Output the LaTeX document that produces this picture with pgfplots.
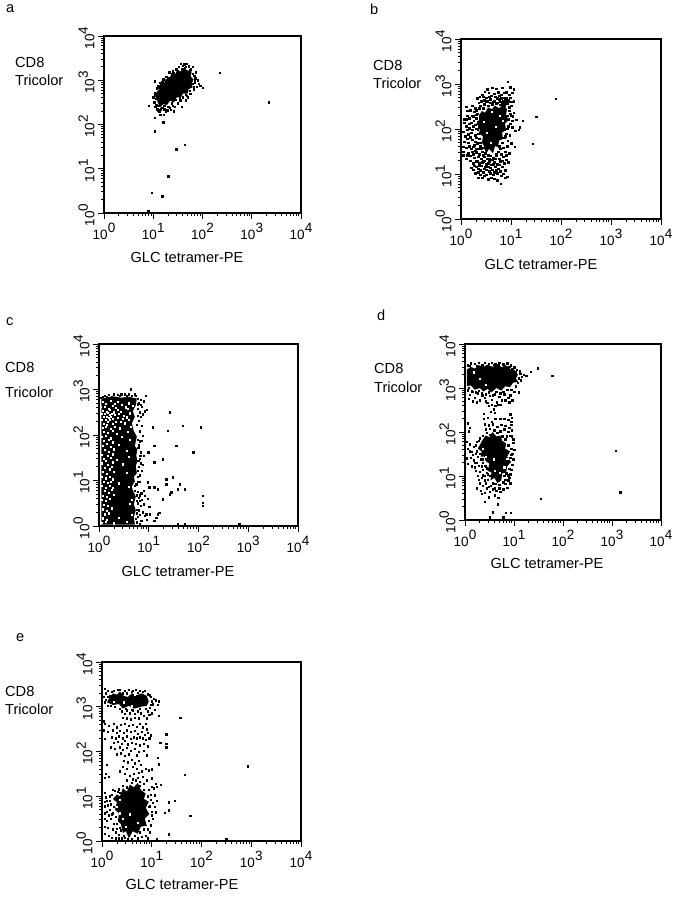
\documentclass[border=0pt]{standalone}
\usepackage{fontspec}
\setmainfont{Liberation Sans}
\usepackage{pgfplots}
\pgfplotsset{compat=1.18}
\newcommand\tn[1]{10\raisebox{6.5pt}{#1}}
\newcommand\lab[3]{\node[anchor=west,inner sep=0pt,font=\fontsize{14.6}{17}\selectfont] at ({#1pt},{900pt-#2pt}) {#3};}
\newcommand\cen[3]{\node[anchor=center,inner sep=0pt,font=\fontsize{14.6}{17}\selectfont] at ({#1pt},{900pt-#2pt}) {#3};}
\pgfplotsset{
  flow/.style={
    scale only axis, anchor=south west,
    xmin=0, xmax=4, ymin=0, ymax=4,
    axis line style={line width=1.4pt},
    tick style={line width=0.9pt, black},
    tick align=outside, tick pos=left,
    major tick length=6pt, minor tick length=3pt,
    xtick={0,1,2,3,4}, ytick={0,1,2,3,4},
    xticklabels={\tn{0},\tn{1},\tn{2},\tn{3},\tn{4}},
    yticklabels={\tn{0},\tn{1},\tn{2},\tn{3},\tn{4}},
    minor xtick={0.301,0.477,0.602,0.699,0.778,0.845,0.903,0.954,1.301,1.477,1.602,1.699,1.778,1.845,1.903,1.954,2.301,2.477,2.602,2.699,2.778,2.845,2.903,2.954,3.301,3.477,3.602,3.699,3.778,3.845,3.903,3.954},
    minor ytick={0.301,0.477,0.602,0.699,0.778,0.845,0.903,0.954,1.301,1.477,1.602,1.699,1.778,1.845,1.903,1.954,2.301,2.477,2.602,2.699,2.778,2.845,2.903,2.954,3.301,3.477,3.602,3.699,3.778,3.845,3.903,3.954},
    tick label style={font=\fontsize{13.5}{15}\selectfont},
    xticklabel style={yshift=-1pt},
    yticklabel style={rotate=90, anchor=south, xshift=-2pt},
  },
  core/.style={fill=black, draw=none, forget plot},
  speck/.style={only marks, mark=square*, mark size=0.7pt, color=black, mark options={draw=none}},
  hole/.style={only marks, mark=square*, mark size=0.6pt, color=white, mark options={draw=none}},
}
\begin{document}
\begin{tikzpicture}
\path[use as bounding box] (0,0) rectangle (677pt,900pt);

% panel a
\begin{axis}[flow, at={(104pt,687pt)}, width=197pt, height=177pt]
\addplot[core] coordinates {(1.06,2.72)(1.12,2.80)(1.14,2.90)(1.22,2.92)(1.24,3.02)(1.32,3.02)(1.36,3.12)(1.44,3.12)(1.48,3.22)(1.56,3.20)(1.60,3.28)(1.70,3.22)(1.78,3.20)(1.76,3.08)(1.82,3.02)(1.78,2.92)(1.80,2.84)(1.72,2.80)(1.70,2.70)(1.60,2.70)(1.56,2.60)(1.48,2.62)(1.42,2.50)(1.34,2.54)(1.28,2.44)(1.20,2.46)(1.14,2.38)(1.10,2.48)(1.06,2.58)} -- cycle;
\addplot[speck] coordinates {
(2.35,3.17)(3.35,2.50)(1.03,2.16)(1.03,1.85)(1.20,2.05)(1.47,1.44)(1.64,1.54)(1.30,0.83)(0.97,0.46)(1.18,0.38)(0.90,0.05)(0.91,2.42)(2.01,2.83)
(1.00,2.62)(1.03,2.72)(1.02,2.50)(1.05,2.58)(1.06,2.45)(1.07,2.82)(1.04,2.40)(1.10,2.88)(1.08,2.35)(1.12,2.30)(1.13,2.95)(1.16,2.93)(1.15,2.35)(1.18,2.38)(1.20,3.02)(1.22,2.35)(1.14,2.22)(1.21,2.22)(1.26,3.08)(1.25,2.30)(1.30,3.05)(1.33,2.38)(1.32,3.18)(1.36,2.34)(1.40,3.20)(1.44,2.40)(1.38,3.15)(1.47,3.25)(1.50,2.48)(1.52,3.30)(1.55,2.55)(1.60,3.33)(1.58,2.40)(1.63,3.36)(1.66,3.30)(1.68,2.65)(1.66,2.55)(1.72,3.32)(1.75,2.70)(1.76,3.25)(1.80,3.30)(1.83,3.10)(1.84,2.95)(1.82,2.80)(1.88,2.85)(1.90,3.00)(1.92,2.92)(1.85,3.05)(1.95,2.88)(1.03,2.98)(1.20,3.03)
(1.08,2.68)(1.04,2.66)(1.10,2.42)(1.12,2.84)(1.18,2.96)(1.22,2.42)(1.27,3.00)(1.30,2.40)(1.34,3.06)(1.38,2.48)(1.42,3.16)(1.46,2.56)(1.50,3.20)(1.54,2.58)(1.58,3.26)(1.60,2.62)(1.64,3.28)(1.66,2.68)(1.74,3.24)(1.74,2.76)(1.80,3.15)(1.82,2.86)(1.84,3.00)(1.80,2.92)(1.10,2.32)(1.28,2.32)(1.40,2.42)(1.70,2.62)(1.86,3.18)(1.68,3.38)(1.56,3.38)(1.42,2.30)
};
\end{axis}

% panel b
\begin{axis}[flow, at={(461pt,681pt)}, width=200pt, height=180pt]
\addplot[core] coordinates {(0.36,2.30)(0.42,2.40)(0.48,2.36)(0.54,2.48)(0.62,2.44)(0.68,2.52)(0.76,2.46)(0.84,2.54)(0.92,2.44)(0.90,2.32)(0.95,2.20)(0.88,2.12)(0.90,1.98)(0.82,1.92)(0.84,1.78)(0.76,1.74)(0.74,1.60)(0.68,1.62)(0.64,1.46)(0.56,1.56)(0.50,1.44)(0.46,1.62)(0.42,1.70)(0.44,1.84)(0.36,1.90)(0.38,2.02)(0.31,2.12)(0.36,2.20)} -- cycle;
\addplot[speck] coordinates {
(1.89,2.67)(1.50,2.27)(1.43,1.67)(1.23,2.19)(1.17,2.04)(1.07,1.61)
(0.93,3.05)(0.52,2.88)(0.70,2.90)(0.82,2.92)(0.98,2.93)(1.05,2.88)(0.62,2.92)
(0.37,2.72)(0.47,2.83)(0.55,2.80)(0.66,2.78)(0.74,2.82)(0.80,2.76)(0.90,2.82)(1.02,2.80)
(0.32,2.68)(0.40,2.62)(0.50,2.70)(0.58,2.66)(0.64,2.60)(0.72,2.68)(0.78,2.60)(0.84,2.70)(0.88,2.66)(0.94,2.64)(0.98,2.70)(1.05,2.62)(0.35,2.58)
(0.80,2.68)(0.86,2.62)(0.90,2.70)(0.76,2.66)(0.92,2.60)
(0.10,2.50)(0.22,2.52)(0.28,2.46)(0.38,2.52)(0.46,2.55)(0.54,2.52)(0.62,2.55)(0.70,2.56)(0.82,2.55)(0.92,2.56)(1.00,2.52)
(0.18,2.42)(0.26,2.38)(0.32,2.34)(0.12,2.30)(0.22,2.30)(0.96,2.40)(1.05,2.36)(0.99,2.30)
(0.05,2.22)(0.16,2.24)(0.25,2.18)(0.30,2.24)(0.20,2.14)(0.34,2.16)(0.94,2.22)(1.02,2.18)(1.10,2.20)
(0.10,2.06)(0.16,2.02)(0.24,2.06)(0.30,2.00)(0.36,2.04)(0.94,2.06)(1.02,2.04)(1.08,1.96)(1.15,1.98)
(0.04,1.94)(0.14,1.88)(0.20,1.92)(0.28,1.86)(0.34,1.90)(0.90,1.90)(0.97,1.86)
(0.06,1.72)(0.12,1.78)(0.22,1.76)(0.28,1.72)(0.36,1.78)(0.32,1.68)(0.86,1.80)(0.93,1.74)(1.00,1.68)
(0.04,1.60)(0.16,1.62)(0.24,1.60)(0.30,1.56)(0.38,1.62)(0.44,1.58)(0.76,1.62)(0.84,1.58)(0.92,1.62)
(0.04,1.50)(0.14,1.46)(0.22,1.50)(0.30,1.48)(0.36,1.44)(0.42,1.50)(0.48,1.46)(0.74,1.50)(0.80,1.44)(0.88,1.50)(0.96,1.46)
(0.12,1.42)(0.26,1.36)(0.34,1.38)(0.40,1.34)(0.46,1.38)(0.52,1.34)(0.58,1.40)(0.64,1.36)(0.70,1.40)(0.76,1.34)(0.84,1.38)(0.90,1.32)
(0.18,1.30)(0.24,1.24)(0.30,1.28)(0.36,1.24)(0.44,1.28)(0.50,1.22)(0.56,1.28)(0.60,1.20)(0.66,1.26)(0.72,1.22)(0.78,1.28)(0.86,1.24)(0.94,1.26)
(0.20,1.14)(0.26,1.18)(0.34,1.12)(0.40,1.18)(0.46,1.12)(0.54,1.16)(0.62,1.10)(0.68,1.16)(0.74,1.12)(0.82,1.16)(0.88,1.08)
(0.28,1.02)(0.34,1.04)(0.38,0.98)(0.44,1.04)(0.50,0.98)(0.58,1.02)(0.64,0.98)(0.72,1.02)(0.80,0.96)(0.92,0.94)
(0.42,0.92)(0.54,0.88)(0.72,0.86)(0.88,0.92)(0.79,0.78)
(0.30,2.42)(0.36,2.46)(0.44,2.46)(0.50,2.60)(0.58,2.58)(0.66,2.62)(0.72,2.58)(0.86,2.52)(0.96,2.48)(0.98,2.34)(1.03,2.28)(0.92,2.30)(0.98,2.12)(0.92,2.00)(0.86,1.98)(0.88,1.84)(0.82,1.70)(0.78,1.56)(0.70,1.44)(0.62,1.32)(0.54,1.42)(0.44,1.42)(0.40,1.56)(0.38,1.70)(0.30,1.80)(0.33,1.98)(0.28,2.10)(0.30,2.32)(0.24,2.28)(0.16,2.12)(0.10,2.22)(0.12,1.98)(0.22,1.98)(0.18,1.82)(0.26,1.64)(0.20,1.56)(0.10,1.58)(0.28,1.52)(0.18,1.40)(0.32,1.30)(0.42,1.26)(0.54,1.24)(0.64,1.22)(0.76,1.20)(0.82,1.30)(0.90,1.42)(0.68,1.34)(0.56,1.34)(0.46,1.30)(0.36,1.18)(0.50,1.10)(0.58,1.14)(0.70,1.08)(0.78,1.06)(0.48,1.16)(0.30,1.16)(0.24,1.10)(0.38,1.08)(0.56,1.06)(0.66,1.04)(0.84,1.00)(0.60,0.92)(0.46,0.96)(0.34,0.92)(0.66,0.90)(0.56,2.72)(0.68,2.72)(0.44,2.72)(0.42,2.76)(0.60,2.74)(0.76,2.74)(0.86,2.80)(0.96,2.76)(0.52,2.62)(0.46,2.64)(0.84,2.62)(0.96,2.60)(1.00,2.60)(0.88,2.56)(0.78,2.54)(0.12,2.40)(0.06,2.14)(0.08,1.84)(0.14,1.70)(0.04,1.42)(0.10,1.34)(0.24,1.44)(0.34,1.56)
};
\addplot[hole] coordinates {(0.45,2.16)(0.62,2.38)(0.78,2.30)(0.52,1.92)(0.70,2.05)(0.84,2.18)(0.60,1.70)};
\end{axis}

% panel c
\begin{axis}[flow, at={(99pt,374pt)}, width=199pt, height=182pt]
\addplot[core] coordinates {(0.05,0.03)(0.72,0.03)(0.70,0.20)(0.74,0.34)(0.70,0.48)(0.74,0.65)(0.68,0.78)(0.66,0.87)(0.72,0.98)(0.70,1.08)(0.76,1.16)(0.74,1.32)(0.77,1.42)(0.75,1.55)(0.77,1.68)(0.72,1.76)(0.76,1.97)(0.70,2.08)(0.66,2.26)(0.72,2.40)(0.68,2.52)(0.74,2.66)(0.76,2.80)(0.60,2.84)(0.44,2.82)(0.28,2.85)(0.05,2.80)} -- cycle;
\addplot[hole] coordinates {
(.07,2.74)(.14,2.69)(.23,2.76)(.31,2.68)(.38,2.74)(.60,2.70)(.03,2.62)(.11,2.63)(.19,2.58)(.27,2.64)(.34,2.60)(.46,2.66)(.53,2.61)(.67,2.64)
(.08,2.54)(.15,2.52)(.22,2.55)(.29,2.50)(.37,2.56)(.43,2.52)(.58,2.57)(.05,2.47)(.12,2.46)(.18,2.49)(.21,2.44)(.25,2.47)(.32,2.44)(.40,2.46)(.50,2.43)(.62,2.48)
(.09,2.41)(.15,2.40)(.19,2.38)(.24,2.40)(.27,2.36)(.37,2.38)(.47,2.35)(.55,2.39)(.06,2.34)(.13,2.33)(.17,2.30)(.22,2.33)(.33,2.29)(.44,2.30)(.60,2.33)
(.10,2.25)(.15,2.23)(.28,2.24)(.52,2.26)(.07,2.16)(.13,2.18)(.24,2.14)(.31,2.19)(.41,2.15)(.63,2.18)(.09,2.08)(.18,2.05)(.28,2.09)(.36,2.03)(.58,2.07)
(.06,1.97)(.14,1.99)(.23,1.93)(.46,1.96)(.10,1.87)(.19,1.89)(.28,1.84)(.62,1.90)(.07,1.77)(.15,1.81)(.24,1.74)(.40,1.79)(.12,1.68)(.20,1.63)(.30,1.69)(.55,1.65)
(.05,1.57)(.17,1.55)(.27,1.58)(.09,1.48)(.14,1.44)(.23,1.50)(.35,1.46)(.60,1.52)(.06,1.38)(.18,1.34)(.28,1.40)(.48,1.36)(.11,1.28)(.21,1.25)(.26,1.30)
(.08,1.19)(.16,1.15)(.30,1.20)(.55,1.17)(.05,1.08)(.13,1.05)(.22,1.09)(.27,1.03)(.09,.97)(.18,.95)(.24,.98)(.40,.94)(.06,.88)(.14,.85)(.21,.89)(.28,.84)(.60,.87)
(.11,.77)(.19,.74)(.25,.79)(.08,.67)(.16,.65)(.30,.69)(.05,.58)(.13,.55)(.22,.60)(.65,.57)(.10,.47)(.18,.44)(.62,.49)(.07,.37)(.15,.34)(.25,.39)(.12,.26)(.20,.28)(.66,.24)(.08,.17)(.16,.14)(.40,.19)(.06,.07)(.14,.09)(.30,.06)(.55,.10)
};
\addplot[speck] coordinates {
(1.08,2.17)(1.42,2.50)(1.68,2.21)(2.05,2.17)(1.38,2.10)(1.11,1.76)(1.55,1.76)(0.99,1.62)(1.89,1.62)(1.28,1.47)(1.11,1.40)(0.98,0.96)(1.48,1.07)(1.35,1.03)(1.35,0.92)(1.62,0.92)(1.58,0.81)(1.72,0.81)(1.01,0.85)(1.11,0.85)(1.18,0.81)(1.45,0.74)(1.42,0.70)(1.28,0.59)(2.09,0.66)(2.09,0.51)(2.09,0.44)(1.21,0.29)(1.18,0.26)(1.15,0.18)(1.11,0.11)(1.01,0.43)(1.58,0.04)(1.72,0.04)(2.82,0.04)
(0.78,2.80)(0.84,2.78)(0.90,2.74)(0.94,2.87)(0.80,2.70)(0.86,2.62)(0.78,2.58)(0.92,2.52)(0.88,2.46)(0.96,2.55)(0.84,2.40)(0.80,2.32)(0.76,2.22)(0.86,2.20)(0.82,2.08)(0.88,1.98)(0.86,1.88)(0.80,1.78)(0.90,1.55)(0.84,1.62)(0.82,1.48)(0.88,1.35)(0.80,1.30)(0.86,1.22)(0.78,1.08)(0.82,0.98)(0.75,0.92)(0.72,0.78)(0.78,0.75)(0.85,0.72)(0.90,0.78)(0.80,0.62)(0.86,0.58)(0.92,0.66)(0.98,0.60)(0.78,0.50)(0.84,0.44)(0.90,0.48)(0.80,0.35)(0.88,0.30)(0.95,0.26)(0.78,0.20)(0.85,0.12)(0.92,0.22)(0.76,0.08)(0.82,0.05)(0.96,0.14)(1.02,0.26)
(0.72,2.90)(0.60,2.90)(0.45,2.90)(0.30,2.90)(0.20,2.88)(0.12,2.86)(0.64,3.01)(0.52,2.90)(0.38,2.88)(0.08,2.84)
(0.78,1.90)(0.82,1.86)(0.79,1.72)(0.83,1.55)(0.79,1.44)(0.84,1.38)(0.78,1.22)(0.82,1.12)(0.78,0.98)(0.72,0.88)(0.76,0.68)(0.82,0.68)(0.76,0.55)(0.82,0.56)(0.76,0.36)(0.76,0.28)(0.82,0.25)(0.74,0.16)(0.78,2.42)(0.82,2.50)(0.78,2.68)(0.84,2.66)(0.74,2.86)(0.66,2.86)(0.56,2.86)(0.42,2.86)(0.26,2.84)(0.16,2.84)(0.04,2.82)
};
\end{axis}

% panel d
\begin{axis}[flow, at={(465pt,380pt)}, width=196pt, height=176pt]
\addplot[core] coordinates {(0.04,3.42)(0.12,3.48)(0.20,3.44)(0.28,3.52)(0.38,3.48)(0.46,3.53)(0.56,3.48)(0.66,3.53)(0.76,3.47)(0.86,3.50)(0.94,3.42)(1.02,3.40)(1.08,3.30)(1.04,3.22)(1.08,3.14)(0.98,3.12)(0.92,3.02)(0.82,3.04)(0.74,2.94)(0.64,3.00)(0.54,2.90)(0.46,2.98)(0.38,2.92)(0.30,3.00)(0.20,2.96)(0.12,3.06)(0.04,3.04)} -- cycle;
\addplot[core] coordinates {(0.36,1.82)(0.42,1.92)(0.50,1.88)(0.56,2.00)(0.64,1.90)(0.72,1.92)(0.76,1.80)(0.84,1.74)(0.82,1.62)(0.92,1.56)(0.86,1.44)(0.94,1.32)(0.86,1.22)(0.84,1.08)(0.76,1.06)(0.74,0.90)(0.66,0.84)(0.60,0.96)(0.52,0.90)(0.54,1.08)(0.46,1.12)(0.50,1.28)(0.42,1.34)(0.40,1.44)(0.32,1.44)(0.34,1.56)(0.26,1.62)(0.32,1.74)} -- cycle;
\addplot[speck] coordinates {
(1.48,3.45)(1.78,3.28)(1.34,3.37)(1.25,3.28)(3.07,1.58)(3.17,0.63)(1.54,0.48)(1.10,2.90)
(0.05,3.52)(0.12,3.56)(0.20,3.55)(0.28,3.58)(0.34,3.53)(0.40,3.57)(0.48,3.55)(0.55,3.58)(0.62,3.54)(0.70,3.58)(0.78,3.54)(0.86,3.56)(0.93,3.52)(1.00,3.47)(1.06,3.42)(1.12,3.38)(1.16,3.26)(1.14,3.18)(1.08,3.12)(1.20,3.30)
(0.05,2.95)(0.10,2.85)(0.15,2.92)(0.20,2.78)(0.26,2.88)(0.30,2.72)(0.35,2.84)(0.40,2.78)(0.45,2.66)(0.50,2.82)(0.55,2.74)(0.60,2.86)(0.65,2.68)(0.70,2.80)(0.75,2.72)(0.80,2.86)(0.88,2.78)(0.92,2.84)(0.96,2.72)(1.00,2.92)(0.62,2.60)(0.68,2.62)(0.58,2.52)(0.52,2.46)(0.60,2.44)(0.38,2.42)(0.92,2.40)(0.95,2.33)
(0.05,2.20)(0.10,2.10)(0.38,2.30)(0.46,2.32)(0.54,2.24)(0.62,2.30)(0.72,2.30)(0.80,2.30)(0.88,2.28)(0.94,2.24)(0.40,2.18)(0.48,2.15)(0.56,2.18)(0.66,2.12)(0.74,2.16)(0.82,2.14)(0.90,2.10)(0.94,2.16)(0.08,2.02)(0.42,2.06)(0.50,2.08)(0.60,2.04)(0.72,2.02)(0.80,2.06)(0.88,2.00)(0.95,2.04)(0.85,1.90)(0.92,1.92)(0.98,1.84)
(0.04,1.78)(0.10,1.72)(0.06,1.62)(0.14,1.55)(0.18,1.66)(0.24,1.78)(0.22,1.50)(0.04,1.40)(0.12,1.42)(0.18,1.36)(0.26,1.44)(0.32,1.38)(0.06,1.28)(0.14,1.22)(0.20,1.30)(0.28,1.24)(0.36,1.30)(0.42,1.22)(0.22,1.12)(0.30,1.10)(0.36,1.14)(0.44,1.08)(0.26,1.00)(0.34,0.96)(0.40,1.00)(0.46,0.92)(0.30,0.84)(0.36,0.78)(0.42,0.84)(0.48,0.76)(0.24,0.72)(0.32,0.66)(0.40,0.62)(0.50,0.64)(0.56,0.70)(0.64,0.66)(0.70,0.72)(0.78,0.70)(0.86,0.74)(0.60,0.56)(0.68,0.50)(0.48,0.52)(0.67,0.36)(0.40,0.42)(0.57,0.18)(0.50,0.06)(0.78,0.06)(0.83,0.17)(0.93,0.17)
(0.95,1.90)(0.98,1.75)(1.00,1.60)(0.94,1.48)(0.98,1.38)(0.94,1.14)(0.92,1.04)(0.90,0.96)(0.92,0.84)(0.88,0.90)(0.82,0.92)(0.84,1.06)
(0.08,3.00)(0.14,2.94)(0.22,2.90)(0.28,2.94)(0.34,2.88)(0.42,2.86)(0.48,2.90)(0.56,2.84)(0.64,2.92)(0.72,2.88)(0.78,2.92)(0.86,2.96)(0.94,2.96)(1.04,3.04)(1.10,3.22)(1.13,3.32)(0.42,2.70)(0.48,2.60)(0.54,2.62)(0.72,2.62)(0.82,2.72)(0.90,2.68)(0.08,2.76)(0.16,2.70)(0.24,2.68)
(0.10,3.50)(0.24,3.50)(0.36,3.52)(0.44,3.50)(0.58,3.53)(0.68,3.52)(0.80,3.50)(0.90,3.48)(0.96,3.44)(1.04,3.36)
(0.30,1.86)(0.36,1.92)(0.44,1.98)(0.50,1.94)(0.58,2.04)(0.66,1.98)(0.76,1.90)(0.82,1.84)(0.88,1.70)(0.94,1.62)(0.96,1.50)(0.92,1.42)(0.96,1.26)(0.90,1.16)(0.88,1.02)(0.80,1.00)(0.78,0.86)(0.70,0.80)(0.62,0.82)(0.56,0.84)(0.50,1.00)(0.46,1.04)(0.40,1.24)(0.44,1.18)(0.36,1.38)(0.30,1.50)(0.24,1.56)(0.22,1.70)(0.28,1.80)(0.38,1.50)(0.34,1.22)(0.48,1.40)(0.24,1.30)(0.16,1.48)(0.10,1.56)(0.30,1.64)(0.20,1.20)(0.36,1.02)(0.28,0.92)(0.40,0.90)(0.52,0.78)(0.60,0.72)(0.72,0.64)(0.82,0.82)(0.44,0.72)(0.34,0.60)
};
\addplot[hole] coordinates {(0.36,1.62)(0.42,1.44)(0.86,1.40)(0.80,1.20)(0.60,1.12)(0.58,1.38)(0.70,1.08)(0.30,3.22)(0.18,3.36)(0.42,3.08)};
\end{axis}

% panel e
\begin{axis}[flow, at={(102pt,59pt)}, width=199pt, height=179pt]
\addplot[core] coordinates {(0.16,3.22)(0.22,3.30)(0.30,3.27)(0.36,3.34)(0.44,3.24)(0.52,3.22)(0.60,3.30)(0.70,3.26)(0.80,3.30)(0.90,3.24)(0.94,3.12)(0.90,3.02)(0.78,3.00)(0.66,2.96)(0.54,3.02)(0.42,2.96)(0.34,3.06)(0.22,3.04)(0.10,3.10)} -- cycle;
\addplot[core] coordinates {(0.42,1.18)(0.50,1.10)(0.56,1.26)(0.64,1.20)(0.72,1.30)(0.78,1.14)(0.88,1.06)(0.84,0.94)(0.94,0.88)(0.88,0.74)(0.95,0.60)(0.86,0.50)(0.90,0.34)(0.78,0.32)(0.72,0.16)(0.62,0.22)(0.54,0.06)(0.48,0.22)(0.42,0.18)(0.38,0.38)(0.32,0.44)(0.34,0.62)(0.26,0.70)(0.30,0.86)(0.22,0.94)(0.30,1.04)(0.36,1.00)} -- cycle;
\addplot[speck] coordinates {
(1.57,2.76)(1.29,2.39)(1.29,2.17)(1.29,2.10)(1.17,2.19)(2.93,1.67)(1.66,1.48)(1.46,0.90)(1.34,0.87)(1.34,0.69)(1.26,0.63)(1.77,0.56)(1.34,0.15)(2.50,0.04)(1.10,0.04)
(0.05,3.40)(0.08,3.30)(0.12,3.36)(0.03,3.22)(0.06,3.10)(0.12,3.02)(0.16,3.24)(0.24,3.36)(0.32,3.38)(0.46,3.36)(0.54,3.38)(0.60,3.34)(0.68,3.38)(0.76,3.36)(0.86,3.36)(0.92,3.28)(0.98,3.22)(1.04,3.18)(1.08,3.15)(1.14,3.12)(1.12,3.05)(1.02,3.06)(0.96,2.98)(1.06,2.94)(0.92,2.90)(1.00,2.86)(1.14,2.80)(0.03,2.68)
(0.40,2.90)(0.46,2.84)(0.50,2.92)(0.56,2.86)(0.62,2.92)(0.66,2.84)(0.72,2.90)(0.78,2.86)(0.84,2.80)(0.90,2.74)(0.95,2.82)(0.42,2.76)(0.50,2.74)(0.58,2.72)(0.66,2.76)(0.74,2.74)(0.88,2.62)(0.06,2.62)(0.14,2.58)(0.24,2.62)(0.30,2.54)(0.38,2.60)(0.46,2.62)(0.54,2.58)(0.62,2.60)(0.70,2.56)(0.76,2.62)(0.82,2.54)(0.90,2.50)(0.04,2.48)(0.12,2.44)(0.22,2.48)(0.30,2.42)(0.36,2.46)(0.44,2.42)(0.50,2.48)(0.58,2.44)(0.66,2.46)(0.72,2.40)(0.80,2.44)(0.86,2.38)(0.92,2.42)(0.98,2.36)
(0.20,2.32)(0.28,2.30)(0.34,2.34)(0.42,2.30)(0.50,2.34)(0.58,2.28)(0.64,2.32)(0.70,2.30)(0.76,2.32)(0.82,2.30)(0.88,2.26)(0.95,2.30)(0.06,2.28)(0.24,2.20)(0.32,2.22)(0.40,2.18)(0.46,2.24)(0.52,2.16)(0.60,2.20)(0.68,2.18)(0.76,2.14)(0.84,2.18)(0.92,2.12)(0.18,2.10)(0.26,2.06)(0.36,2.10)(0.42,2.04)(0.50,2.08)(0.58,2.02)(0.66,2.06)(0.74,2.00)(0.84,2.02)
(0.30,1.94)(0.38,1.96)(0.46,1.90)(0.54,1.94)(0.70,1.92)(0.90,1.92)(1.12,1.86)(1.14,1.72)(0.10,1.70)(0.44,1.80)(0.52,1.76)(0.60,1.82)(0.66,1.74)(0.74,1.80)(0.78,1.70)(0.70,1.62)(0.62,1.66)(0.50,1.62)(0.42,1.66)(0.36,1.56)(0.80,1.56)(0.74,1.52)(0.88,1.62)(0.94,1.58)(1.00,1.60)(0.08,1.50)(0.14,1.44)(0.06,1.42)(0.46,1.50)(0.56,1.46)(0.64,1.50)(0.72,1.42)(0.82,1.44)(0.90,1.36)(1.00,1.40)(1.08,1.28)(1.18,1.26)(1.10,1.22)(1.00,1.22)(0.50,1.36)(0.62,1.38)(0.76,1.32)(0.84,1.28)(0.94,1.14)(1.04,1.18)(0.98,1.04)(1.06,1.02)
(0.06,1.08)(0.08,0.98)(0.05,0.88)(0.05,0.78)(0.12,0.80)(0.16,0.90)(0.20,1.04)(0.26,1.12)(0.34,1.16)(0.16,0.70)(0.22,0.62)(0.06,0.62)(0.05,0.50)(0.10,0.45)(0.18,0.50)(0.24,0.38)(0.12,0.30)(0.05,0.32)(0.05,0.16)(0.22,0.26)(0.30,0.28)(0.20,0.08)(0.28,0.06)(0.34,0.14)(0.40,0.06)(0.52,0.04)(0.72,0.06)(0.80,0.10)(0.88,0.12)(0.92,0.06)(0.96,0.20)(0.98,0.35)(1.02,0.50)(1.08,0.64)(1.00,0.66)(0.96,0.78)(1.02,0.86)(1.10,0.90)(1.06,0.76)
(0.36,1.08)(0.42,1.24)(0.50,1.20)(0.60,1.30)(0.68,1.36)(0.76,1.24)(0.84,1.14)(0.92,1.00)(0.98,0.92)(0.94,0.76)(1.00,0.58)(0.94,0.46)(0.92,0.26)(0.84,0.26)(0.76,0.20)(0.66,0.12)(0.60,0.04)(0.46,0.08)(0.38,0.24)(0.30,0.38)(0.28,0.54)(0.24,0.76)(0.18,0.82)(0.20,0.60)(0.28,0.20)(0.14,0.58)(0.26,0.96)(0.32,1.10)(0.16,1.00)(0.22,1.14)(0.10,0.90)(0.36,0.30)(0.44,0.12)(0.34,0.06)(0.14,0.12)(0.10,0.66)
(0.20,3.34)(0.36,3.38)(0.42,3.30)(0.50,3.30)(0.62,3.36)(0.72,3.32)(0.82,3.34)(0.96,3.26)(1.00,3.12)(0.98,3.04)(0.88,2.96)(0.76,2.96)(0.60,2.94)(0.48,2.96)(0.36,2.96)(0.26,3.00)(0.18,3.02)(0.08,3.16)(0.12,3.22)
};
\addplot[hole] coordinates {(0.36,0.92)(0.30,0.76)(0.42,0.50)(0.56,0.60)(0.72,0.40)(0.48,0.32)(0.36,0.62)(0.24,3.12)(0.60,3.02)(0.66,3.28)(0.44,3.10)};
\end{axis}

% panel letters and axis names
\lab{6}{9}{a}\lab{370}{9}{b}\lab{6}{322}{c}\lab{377}{315}{d}\lab{16}{638}{e}
\lab{15}{62}{CD8}\lab{15}{80}{Tricolor}
\lab{373}{65}{CD8}\lab{373}{83}{Tricolor}
\lab{5}{367}{CD8}\lab{5}{392}{Tricolor}
\lab{374}{368}{CD8}\lab{374}{387}{Tricolor}
\lab{5}{691}{CD8}\lab{5}{709}{Tricolor}
\cen{187}{257}{GLC tetramer-PE}
\cen{541}{264}{GLC tetramer-PE}
\cen{178}{571}{GLC tetramer-PE}
\cen{547}{563}{GLC tetramer-PE}
\cen{182}{884}{GLC tetramer-PE}
\end{tikzpicture}
\end{document}
